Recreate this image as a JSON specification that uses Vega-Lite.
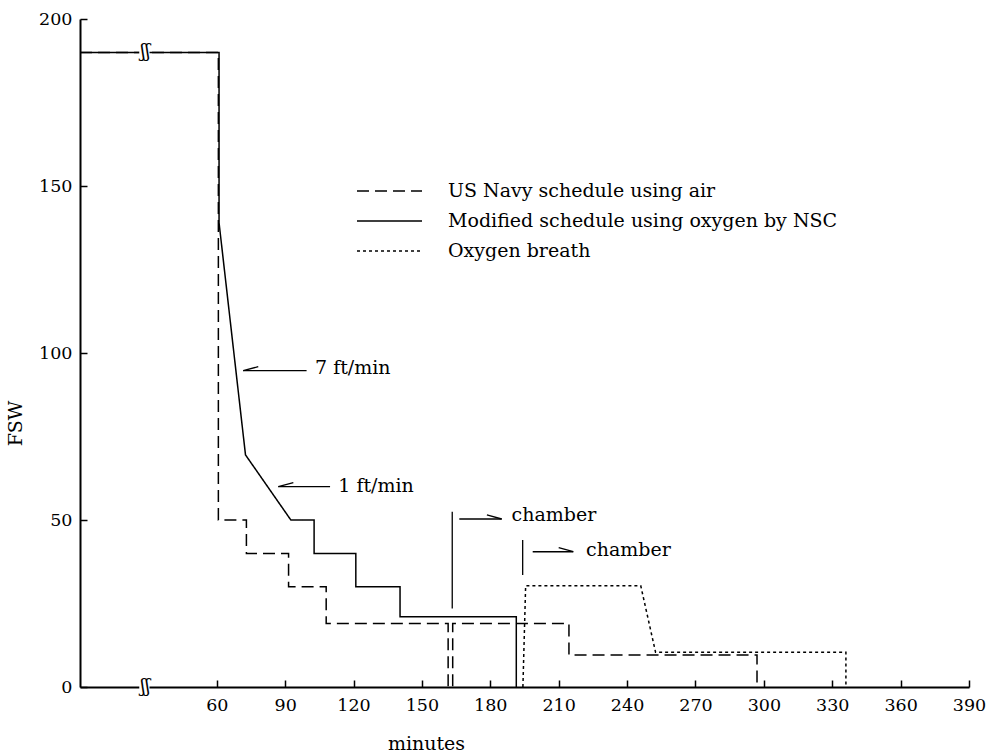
{
  "$schema": "https://vega.github.io/schema/vega-lite/v6.json",
  "width": 889,
  "height": 668,
  "autosize": "none",
  "padding": {"left": 80, "top": 19, "right": 23, "bottom": 67},
  "background": "white",
  "config": {
    "view": {"stroke": null},
    "font": "DejaVu Serif",
    "axis": {
      "grid": false,
      "domainColor": "black",
      "domainWidth": 2,
      "tickColor": "black",
      "tickWidth": 1.5,
      "tickSize": -7,
      "labelFlush": false,
      "labelColor": "black",
      "labelFont": "DejaVu Serif",
      "labelFontSize": 17.5,
      "titleFont": "DejaVu Serif",
      "titleFontSize": 19,
      "titleFontWeight": "normal",
      "titleColor": "black"
    }
  },
  "datasets": {
    "curves": [
      {"series": "US Navy schedule using air", "ord": 1, "t": 0, "fsw": 190},
      {"series": "US Navy schedule using air", "ord": 2, "t": 60.7, "fsw": 190},
      {"series": "US Navy schedule using air", "ord": 3, "t": 60.7, "fsw": 50},
      {"series": "US Navy schedule using air", "ord": 4, "t": 73, "fsw": 50},
      {"series": "US Navy schedule using air", "ord": 5, "t": 73, "fsw": 40},
      {"series": "US Navy schedule using air", "ord": 6, "t": 91.5, "fsw": 40},
      {"series": "US Navy schedule using air", "ord": 7, "t": 91.5, "fsw": 30},
      {"series": "US Navy schedule using air", "ord": 8, "t": 108, "fsw": 30},
      {"series": "US Navy schedule using air", "ord": 9, "t": 108, "fsw": 19},
      {"series": "US Navy schedule using air", "ord": 10, "t": 161.5, "fsw": 19},
      {"series": "US Navy schedule using air", "ord": 11, "t": 161.5, "fsw": 0},
      {"series": "US Navy schedule using air", "ord": 12, "t": 163.5, "fsw": 0},
      {"series": "US Navy schedule using air", "ord": 13, "t": 163.5, "fsw": 19},
      {"series": "US Navy schedule using air", "ord": 14, "t": 214.5, "fsw": 19},
      {"series": "US Navy schedule using air", "ord": 15, "t": 214.5, "fsw": 9.6},
      {"series": "US Navy schedule using air", "ord": 16, "t": 297, "fsw": 9.6},
      {"series": "US Navy schedule using air", "ord": 17, "t": 297, "fsw": 0},
      {"series": "Modified schedule using oxygen by NSC", "ord": 1, "t": 0, "fsw": 190},
      {"series": "Modified schedule using oxygen by NSC", "ord": 2, "t": 61, "fsw": 190},
      {"series": "Modified schedule using oxygen by NSC", "ord": 3, "t": 61, "fsw": 139},
      {"series": "Modified schedule using oxygen by NSC", "ord": 4, "t": 72.6, "fsw": 69.5},
      {"series": "Modified schedule using oxygen by NSC", "ord": 5, "t": 92.5, "fsw": 50},
      {"series": "Modified schedule using oxygen by NSC", "ord": 6, "t": 102.7, "fsw": 50},
      {"series": "Modified schedule using oxygen by NSC", "ord": 7, "t": 102.7, "fsw": 40},
      {"series": "Modified schedule using oxygen by NSC", "ord": 8, "t": 121, "fsw": 40},
      {"series": "Modified schedule using oxygen by NSC", "ord": 9, "t": 121, "fsw": 30},
      {"series": "Modified schedule using oxygen by NSC", "ord": 10, "t": 140.4, "fsw": 30},
      {"series": "Modified schedule using oxygen by NSC", "ord": 11, "t": 140.4, "fsw": 21},
      {"series": "Modified schedule using oxygen by NSC", "ord": 12, "t": 191.4, "fsw": 21},
      {"series": "Modified schedule using oxygen by NSC", "ord": 13, "t": 191.4, "fsw": 0},
      {"series": "Oxygen breath", "ord": 1, "t": 194.3, "fsw": 0},
      {"series": "Oxygen breath", "ord": 2, "t": 195.5, "fsw": 30.3},
      {"series": "Oxygen breath", "ord": 3, "t": 246, "fsw": 30.3},
      {"series": "Oxygen breath", "ord": 4, "t": 252.5, "fsw": 10.4},
      {"series": "Oxygen breath", "ord": 5, "t": 336, "fsw": 10.4},
      {"series": "Oxygen breath", "ord": 6, "t": 336, "fsw": 0}
    ],
    "segments": [
      {"t": 99.4, "t2": 71.6, "fsw": 94.7, "fsw2": 94.7},
      {"t": 71.6, "t2": 78.2, "fsw": 94.7, "fsw2": 95.9},
      {"t": 109.7, "t2": 87, "fsw": 60, "fsw2": 60},
      {"t": 87, "t2": 93.6, "fsw": 60, "fsw2": 61.2},
      {"t": 163.3, "t2": 163.3, "fsw": 23.5, "fsw2": 52.5},
      {"t": 166.4, "t2": 185, "fsw": 50.3, "fsw2": 50.3},
      {"t": 185, "t2": 178.5, "fsw": 50.3, "fsw2": 51.5},
      {"t": 194.2, "t2": 194.2, "fsw": 33.5, "fsw2": 44},
      {"t": 198.6, "t2": 216.4, "fsw": 40.5, "fsw2": 40.5},
      {"t": 216.4, "t2": 210, "fsw": 40.5, "fsw2": 41.7}
    ],
    "notes": [
      {"t": 103.1, "fsw": 93.7, "text": "7 ft/min"},
      {"t": 113.3, "fsw": 58.5, "text": "1 ft/min"},
      {"t": 189.3, "fsw": 49.6, "text": "chamber"},
      {"t": 222, "fsw": 39.2, "text": "chamber"}
    ],
    "breaks": [
      {"t": 26, "t2": 30.5, "fsw": 190},
      {"t": 26, "t2": 30.5, "fsw": 0}
    ]
  },
  "encoding": {
    "x": {
      "field": "t",
      "type": "quantitative",
      "scale": {"domain": [0, 390], "nice": false, "zero": false},
      "axis": {
        "values": [60, 90, 120, 150, 180, 210, 240, 270, 300, 330, 360, 390],
        "labelPadding": 16,
        "title": "minutes",
        "titleX": 346,
        "titleY": 62,
        "titleAlign": "center",
        "titleBaseline": "alphabetic"
      }
    },
    "y": {
      "field": "fsw",
      "type": "quantitative",
      "scale": {"domain": [0, 200], "nice": false},
      "axis": {
        "values": [0, 50, 100, 150, 200],
        "labelPadding": 15,
        "title": "FSW",
        "titleX": -65,
        "titleY": 404,
        "titleAlign": "center",
        "titleBaseline": "middle"
      }
    }
  },
  "layer": [
    {
      "data": {"name": "curves"},
      "mark": {"type": "line", "color": "black", "strokeWidth": 1.5, "clip": false},
      "encoding": {
        "order": {"field": "ord", "type": "quantitative"},
        "strokeDash": {
          "field": "series",
          "type": "nominal",
          "scale": {
            "domain": ["US Navy schedule using air", "Modified schedule using oxygen by NSC", "Oxygen breath"],
            "range": [[12, 6], [1, 0], [3, 3]]
          },
          "legend": {
            "title": null,
            "orient": "none",
            "legendX": 276,
            "legendY": 157,
            "symbolType": "stroke",
            "symbolSize": 4225,
            "symbolStrokeColor": "black",
            "symbolStrokeWidth": 1.5,
            "labelFont": "DejaVu Serif",
            "labelFontSize": 19,
            "labelColor": "black",
            "labelOffset": 25,
            "labelLimit": 600,
            "clipHeight": 30,
            "rowPadding": 0,
            "padding": 0
          }
        }
      }
    },
    {
      "data": {"name": "segments"},
      "mark": {"type": "rule", "color": "black", "strokeWidth": 1.3},
      "encoding": {
        "x2": {"field": "t2"},
        "y2": {"field": "fsw2"}
      }
    },
    {
      "data": {"name": "notes"},
      "mark": {"type": "text", "align": "left", "baseline": "alphabetic", "fontSize": 19, "font": "DejaVu Serif", "color": "black"},
      "encoding": {
        "text": {"field": "text"}
      }
    },
    {
      "data": {"name": "breaks"},
      "mark": {"type": "rule", "color": "white", "strokeWidth": 5, "clip": false},
      "encoding": {
        "x2": {"field": "t2"}
      }
    },
    {
      "data": {"name": "breaks"},
      "mark": {"type": "text", "text": "ʃʃ", "align": "center", "baseline": "middle", "fontSize": 18, "font": "DejaVu Serif", "color": "black", "dx": 6},
      "encoding": {}
    }
  ]
}
